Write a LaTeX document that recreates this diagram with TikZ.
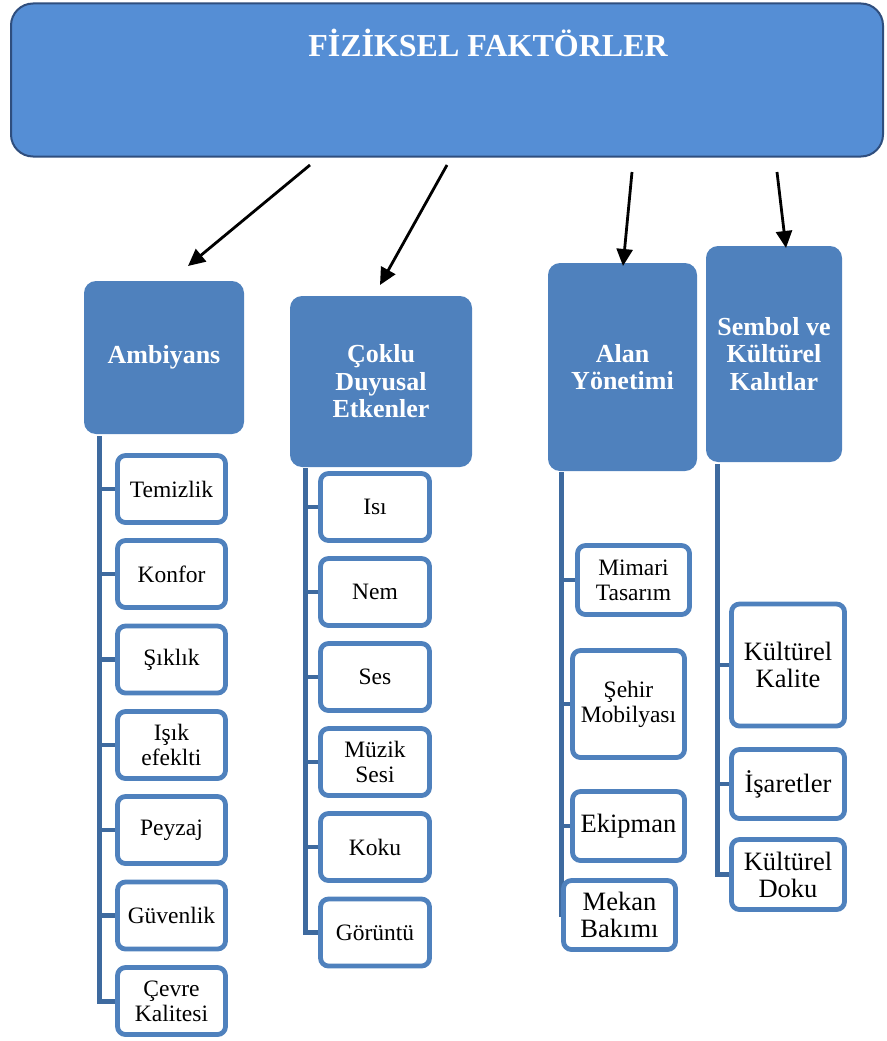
\documentclass[tikz,border=0pt]{standalone}
\usepackage{fontspec}
\setmainfont{Liberation Serif}
\usetikzlibrary{arrows.meta}
\definecolor{bannerfill}{HTML}{558ED5}
\definecolor{bannerline}{HTML}{2F4E7E}
\definecolor{headfill}{HTML}{4F81BD}
\definecolor{childline}{HTML}{4F81BD}
\definecolor{trunk}{HTML}{3E6A9F}
\tikzset{
  banner/.style={draw=bannerline, line width=2pt, fill=bannerfill, rounded corners=22pt},
  head/.style={fill=headfill, rounded corners=12pt, text=white, align=center,
    inner sep=0pt, font=\bfseries\fontsize{26}{27.5}\selectfont},
  child/.style={draw=childline, line width=4.8pt, fill=white, rounded corners=8pt,
    align=center, inner sep=0pt, font=\fontsize{23.5}{25}\selectfont},
  bigtext/.style={font=\fontsize{26.5}{27}\selectfont},
  trunkline/.style={draw=trunk, line width=5pt},
  stub/.style={draw=trunk, line width=4.5pt},
  pointer/.style={draw=black, line width=2.8pt, -{Triangle[length=17pt,width=16pt]}}
}
\begin{document}
\begin{tikzpicture}[x=1pt,y=-1pt]
\useasboundingbox (0,0) rectangle (886,1041);

% top banner
\node[banner, minimum width=872pt, minimum height=153pt] (top) at (447,80) {};
\node[anchor=base, text=white, font=\bfseries\fontsize{32}{34}\selectfont] (title) at (488,57) {FİZİKSEL FAKTÖRLER};

% group headers
\node[head, minimum width=160pt, minimum height=153pt] (amb) at (164,357.5) {Ambiyans};
\node[head, minimum width=182pt, minimum height=171pt] (cok) at (381,381.5) {Çoklu\\Duyusal\\Etkenler};
\node[head, minimum width=149pt, minimum height=208pt] (alan) at (622.5,367) {Alan\\Yönetimi};
\node[head, minimum width=136pt, minimum height=216pt] (sem) at (774,354) {Sembol ve\\Kültürel\\Kalıtlar};

% arrows from the banner to the headers
\coordinate (s1) at (310,165); \coordinate (t1) at (188,266);
\coordinate (s2) at (447,165); \coordinate (t2) at (380,285);
\coordinate (s3) at (632,172); \coordinate (t3) at (623,266);
\coordinate (s4) at (777,172); \coordinate (t4) at (786,248);
\draw[pointer] (s1) -- (t1);
\draw[pointer] (s2) -- (t2);
\draw[pointer] (s3) -- (t3);
\draw[pointer] (s4) -- (t4);

% Ambiyans items
\foreach \n/\y/\t in {a1/489/Temizlik, a2/574/Konfor, a3/659.5/Şıklık, a4/745/{Işık\\efeklti},
                      a5/830/Peyzaj, a6/915.5/Güvenlik, a7/1001/{Çevre\\Kalitesi}}
  \node[child, minimum width=108pt, minimum height=67pt] (\n) at (171.5,\y) {\t};
\coordinate (ta) at (99,436);
\draw[trunkline] (ta) |- (a7.west);
\foreach \n in {a1,a2,a3,a4,a5,a6}
  \draw[stub] (ta |- \n.west) -- (\n.west);

% Çoklu Duyusal Etkenler items
\foreach \n/\y/\t in {c1/507/Isı, c2/592/Nem, c3/677/Ses, c4/762/{Müzik\\Sesi},
                      c5/847/Koku, c6/932.5/Görüntü}
  \node[child, minimum width=109pt, minimum height=67pt] (\n) at (375,\y) {\t};
\coordinate (tc) at (305.5,468);
\draw[trunkline] (tc) |- (c6.west);
\foreach \n in {c1,c2,c3,c4,c5}
  \draw[stub] (tc |- \n.west) -- (\n.west);

% Alan Yönetimi items
\node[child, minimum width=112pt, minimum height=69pt] (m1) at (633.5,580) {Mimari\\Tasarım};
\node[child, minimum width=112pt, minimum height=107pt] (m2) at (628.5,704) {Şehir\\Mobilyası};
\node[child, bigtext, minimum width=112pt, minimum height=69pt] (m3) at (628.5,826) {Ekipman};
\coordinate (tm) at (561,472);
\coordinate (tmend) at (561,917);
\draw[trunkline] (tm) -- (tmend);
\foreach \n in {m1,m2,m3}
  \draw[stub] (tm |- \n.west) -- (\n.west);
\node[child, bigtext, minimum width=112pt, minimum height=69pt] (m4) at (619.5,915) {Mekan\\Bakımı};

% Sembol ve Kültürel Kalıtlar items
\node[child, bigtext, minimum width=113pt, minimum height=122pt] (k1) at (788,665) {Kültürel\\Kalite};
\node[child, bigtext, minimum width=113pt, minimum height=69pt] (k2) at (788,784) {İşaretler};
\node[child, bigtext, minimum width=113pt, minimum height=70pt] (k3) at (788,874.5) {Kültürel\\Doku};
\coordinate (tk) at (717,464);
\draw[trunkline] (tk) |- (k3.west);
\foreach \n in {k1,k2}
  \draw[stub] (tk |- \n.west) -- (\n.west);
\end{tikzpicture}
\end{document}
